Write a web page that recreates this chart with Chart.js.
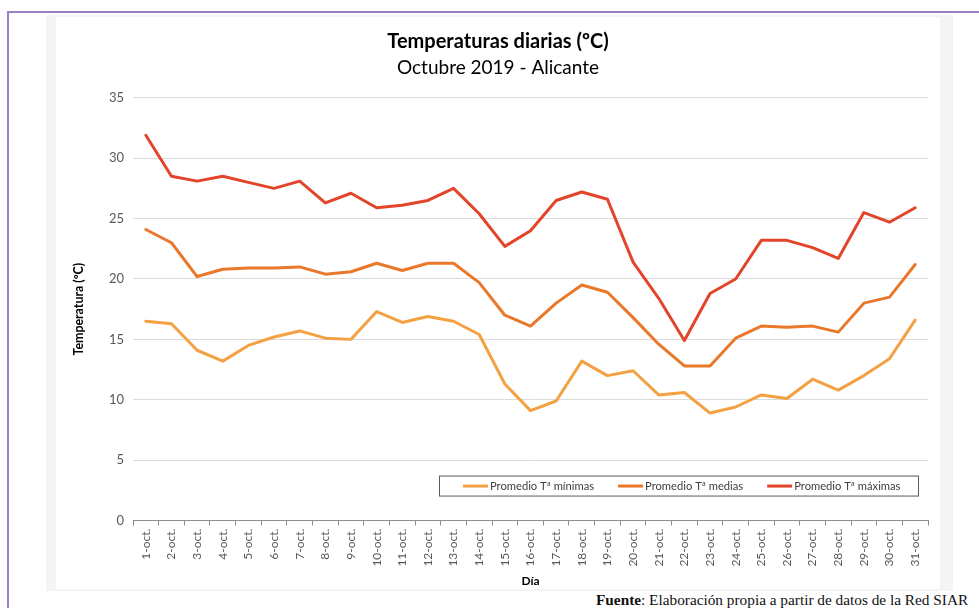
<!DOCTYPE html>
<html>
<head>
<meta charset="utf-8">
<script src="https://cdn.jsdelivr.net/npm/chart.js@4.4.0/dist/chart.umd.min.js"></script>
<style>
  html, body { margin: 0; padding: 0; background: #fff; }
  body { width: 979px; height: 608px; overflow: hidden; position: relative; }
  #frame { position: absolute; left: 7px; top: 11px; width: 980px; height: 610px;
           border-top: 2px solid #9c82c2; border-left: 2px solid #9c82c2; }
  #panel { position: absolute; left: 46px; top: 15px; width: 907px; height: 576px; background: #f4f4f4; }
  #inner { position: absolute; left: 10px; top: 2px; width: 884px; height: 572px; background: #fff; }
  #wrap { position: absolute; left: 46px; top: 15px; width: 907px; height: 576px; }
  #fuente { position: absolute; left: 596px; top: 591px; white-space: nowrap;
            font-family: "Liberation Serif", serif; font-size: 15.3px; color: #111; }
</style>
</head>
<body>
<div id="frame"></div>
<div id="panel"><div id="inner"></div></div>
<div id="wrap"><canvas id="chart" width="907" height="576"></canvas></div>
<div id="fuente"><b>Fuente</b>: Elaboración propia a partir de datos de la Red SIAR</div>
<script>
// datos
const dias = ['1-oct.', '2-oct.', '3-oct.', '4-oct.', '5-oct.', '6-oct.', '7-oct.', '8-oct.', '9-oct.', '10-oct.',
  '11-oct.', '12-oct.', '13-oct.', '14-oct.', '15-oct.', '16-oct.', '17-oct.', '18-oct.', '19-oct.', '20-oct.',
  '21-oct.', '22-oct.', '23-oct.', '24-oct.', '25-oct.', '26-oct.', '27-oct.', '28-oct.', '29-oct.', '30-oct.', '31-oct.'];

const tMinimas = [16.5, 16.3, 14.1, 13.2, 14.5, 15.2, 15.7, 15.1, 15.0, 17.3,
  16.4, 16.9, 16.5, 15.4, 11.3, 9.1, 9.9, 13.2, 12.0, 12.4,
  10.4, 10.6, 8.9, 9.4, 10.4, 10.1, 11.7, 10.8, 12.0, 13.4, 16.6];

const tMedias = [24.1, 23.0, 20.2, 20.8, 20.9, 20.9, 21.0, 20.4, 20.6, 21.3,
  20.7, 21.3, 21.3, 19.7, 17.0, 16.1, 18.0, 19.5, 18.9, 16.8,
  14.6, 12.8, 12.8, 15.1, 16.1, 16.0, 16.1, 15.6, 18.0, 18.5, 21.2];

const tMaximas = [31.9, 28.5, 28.1, 28.5, 28.0, 27.5, 28.1, 26.3, 27.1, 25.9,
  26.1, 26.5, 27.5, 25.4, 22.7, 24.0, 26.5, 27.2, 26.6, 21.4,
  18.4, 14.9, 18.8, 20.0, 23.2, 23.2, 22.6, 21.7, 25.5, 24.7, 25.9];

const yMin = 0, yMax = 35, yStep = 5;

const fontFam = 'Lato, "Open Sans", sans-serif';
const txtGray = '#595959';

// leyenda dentro del area del grafico, como en Excel
const legendBox = {
  id: 'legendBox',
  afterDatasetsDraw(chart) {
    const ctx = chart.ctx;
    const ca = chart.chartArea;
    const left = ca.left + 306, right = ca.right - 10;
    const top = ca.bottom - 45, h = 20;
    ctx.save();
    ctx.fillStyle = '#fff';
    ctx.fillRect(left, top, right - left, h);
    ctx.strokeStyle = '#5a5a5a';
    ctx.lineWidth = 1;
    ctx.strokeRect(left + 0.5, top + 0.5, right - left, h);
    ctx.font = '11.2px ' + fontFam;
    ctx.textBaseline = 'middle';
    let x = left + 24;
    const cy = top + h / 2 + 0.5;
    chart.data.datasets.forEach(ds => {
      ctx.strokeStyle = ds.borderColor;
      ctx.lineWidth = 3;
      ctx.beginPath();
      ctx.moveTo(x, cy);
      ctx.lineTo(x + 25, cy);
      ctx.stroke();
      ctx.fillStyle = '#404040';
      ctx.fillText(ds.label, x + 27, cy);
      x += 27 + ctx.measureText(ds.label).width + 24;
    });
    ctx.restore();
  }
};

new Chart(document.getElementById('chart'), {
  type: 'line',
  data: {
    labels: dias,
    datasets: [
      { label: 'Promedio Tª mínimas', data: tMinimas, borderColor: '#f3a143' },
      { label: 'Promedio Tª medias', data: tMedias, borderColor: '#ea782b' },
      { label: 'Promedio Tª máximas', data: tMaximas, borderColor: '#e2452a' }
    ]
  },
  options: {
    responsive: false,
    animation: false,
    layout: { padding: { left: 22, right: 25, top: 0, bottom: 0 } },
    elements: {
      point: { radius: 0 },
      line: { borderWidth: 3, tension: 0, borderCapStyle: 'round', borderJoinStyle: 'round' }
    },
    plugins: {
      legend: { display: false },
      tooltip: { enabled: false },
      title: {
        display: true,
        text: 'Temperaturas diarias (ºC)',
        color: '#000',
        font: { family: fontFam, size: 20, weight: 'bold' },
        padding: { top: 15, bottom: 1 }
      },
      subtitle: {
        display: true,
        text: 'Octubre 2019 - Alicante',
        color: '#000',
        font: { family: fontFam, size: 19 },
        padding: { top: 1, bottom: 19 }
      }
    },
    scales: {
      x: {
        offset: true,
        grid: { display: true, offset: true, drawOnChartArea: false, drawTicks: true, tickLength: 5, color: '#8c8c8c' },
        border: { display: true, color: '#8c8c8c', width: 1 },
        ticks: { color: txtGray, font: { family: fontFam, size: 12 }, minRotation: 90, maxRotation: 90, padding: 3, autoSkip: false },
        title: { display: true, text: 'Día', color: '#000', font: { family: fontFam, size: 12, weight: 'bold' }, padding: { top: 4, bottom: 3 } }
      },
      y: {
        min: yMin,
        max: yMax,
        afterFit(scale) { scale.width = 65; },
        grid: { color: '#dcdcdc', drawTicks: false },
        border: { display: false },
        ticks: { stepSize: yStep, color: txtGray, font: { family: fontFam, size: 13 }, padding: 9 },
        title: { display: true, text: 'Temperatura (ºC)', color: '#000', font: { family: fontFam, size: 12.4, weight: 'bold' }, padding: { top: 4, bottom: 0 } }
      }
    }
  },
  plugins: [legendBox]
});
</script>
</body>
</html>
